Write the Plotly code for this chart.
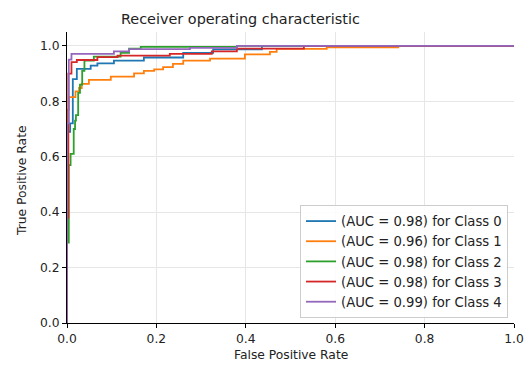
import plotly.graph_objects as go

# ROC step corners (FPR, TPR), drawn with 'hv' steps
fpr_class0 = [0, 0, 0.007, 0.013, 0.022, 0.053, 0.068, 0.105, 0.172, 0.26, 0.327, 0.436, 1.0]
tpr_class0 = [0, 0.69, 0.72, 0.88, 0.917, 0.929, 0.937, 0.947, 0.958, 0.975, 0.987, 1.0, 1.0]

fpr_class1 = [0, 0, 0.004, 0.019, 0.027, 0.033, 0.049, 0.098, 0.15, 0.172, 0.195, 0.215, 0.237,
              0.26, 0.32, 0.398, 0.454, 0.469, 0.581, 0.741, 1.0]
tpr_class1 = [0, 0.77, 0.815, 0.836, 0.848, 0.863, 0.877, 0.889, 0.901, 0.91, 0.915, 0.923, 0.935,
              0.947, 0.954, 0.969, 0.978, 0.989, 0.995, 1.0, 1.0]

fpr_class2 = [0, 0, 0.004, 0.008, 0.015, 0.018, 0.02, 0.025, 0.029, 0.034, 0.039, 0.06, 0.12,
              0.139, 0.165, 0.38, 1.0]
tpr_class2 = [0, 0.29, 0.57, 0.61, 0.70, 0.73, 0.75, 0.83, 0.86, 0.91, 0.947, 0.961, 0.975,
              0.99, 0.996, 1.0, 1.0]

fpr_class3 = [0, 0, 0.003, 0.01, 0.022, 0.068, 0.113, 0.23, 0.324, 0.38, 0.53, 1.0]
tpr_class3 = [0, 0.38, 0.90, 0.941, 0.949, 0.959, 0.965, 0.971, 0.98, 0.99, 1.0, 1.0]

fpr_class4 = [0, 0, 0.004, 0.01, 0.105, 0.139, 0.275, 0.38, 1.0]
tpr_class4 = [0, 0.72, 0.95, 0.971, 0.98, 0.988, 0.993, 1.0, 1.0]

auc_values = [0.98, 0.96, 0.98, 0.98, 0.99]
class_names = ["Class 0", "Class 1", "Class 2", "Class 3", "Class 4"]
colors = ["#1f77b4", "#ff7f0e", "#2ca02c", "#d62728", "#9467bd"]

fprs = [fpr_class0, fpr_class1, fpr_class2, fpr_class3, fpr_class4]
tprs = [tpr_class0, tpr_class1, tpr_class2, tpr_class3, tpr_class4]

W, H = 527, 365
ml, mr, mt, mb = 67, 13, 32, 42

fig = go.Figure()
for f, t, a, n, c in zip(fprs, tprs, auc_values, class_names, colors):
    fig.add_trace(go.Scatter(
        x=f, y=t, mode="lines", line=dict(color=c, width=1.8, shape="hv"),
        name=f"(AUC = {a:.2f}) for {n}", cliponaxis=True))

font = "DejaVu Sans, sans-serif"
fs = 12.3
axis_common = dict(
    showgrid=True, gridcolor="#e6e6e6", gridwidth=1,
    zeroline=False, showline=True, linecolor="black", linewidth=1,
    ticks="outside", ticklen=4, tickcolor="black", tickwidth=1,
    tickformat=".1f", tickfont=dict(family=font, size=fs, color="#222"),
    dtick=0.2, tick0=0, mirror=False, automargin=False,
)
fig.update_layout(
    width=W, height=H,
    margin=dict(l=ml, r=mr, t=mt, b=mb, autoexpand=False),
    paper_bgcolor="white", plot_bgcolor="white",
    showlegend=True,
    xaxis=dict(range=[0, 1.0], **axis_common),
    yaxis=dict(range=[0, 1.05], **axis_common),
    legend=dict(
        x=(508 - ml) / (W - ml - mr), y=(H - mb - 318) / (H - mt - mb),
        xanchor="right", yanchor="bottom",
        bgcolor="rgba(255,255,255,0.85)", bordercolor="#cccccc", borderwidth=1,
        font=dict(family=font, size=13.2, color="#222"),
        tracegroupgap=0,
    ),
    annotations=[
        dict(text="Receiver operating characteristic", xref="paper", yref="paper",
             x=(240 - ml) / (W - ml - mr), y=1, yshift=(mt - 19), xanchor="center", yanchor="middle",
             showarrow=False, font=dict(family=font, size=14.4, color="#222")),
        dict(text="False Positive Rate", xref="paper", yref="paper",
             x=0.5, y=0, yshift=-(355 - (H - mb)), xanchor="center", yanchor="middle",
             showarrow=False, font=dict(family=font, size=fs, color="#222")),
        dict(text="True Positive Rate", xref="paper", yref="paper",
             x=0, xshift=-(ml - 22), y=(H - mb - 181) / (H - mt - mb), xanchor="center", yanchor="middle",
             textangle=-90, showarrow=False, font=dict(family=font, size=fs, color="#222")),
    ],
)

fig.write_html("out.html", config={"displayModeBar": False})
